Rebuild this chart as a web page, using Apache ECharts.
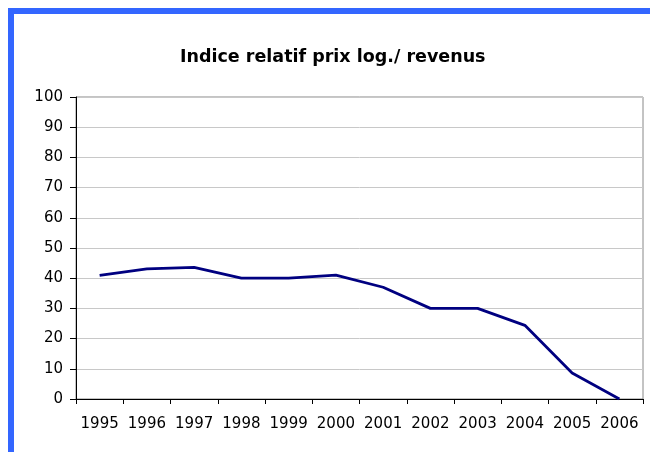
<!DOCTYPE html>
<html>
<head>
<meta charset="utf-8">
<script src="https://cdn.jsdelivr.net/npm/echarts@6/dist/echarts.min.js"></script>
<style>
  body { margin: 0; background: #fff; }
  #myChart { width: 650px; height: 452px; }
</style>
</head>
<body>
<div id="myChart"></div>
<script>
var years = ["1995", "1996", "1997", "1998", "1999", "2000", "2001", "2002", "2003", "2004", "2005", "2006"];
var indice = [40.9, 43.1, 43.6, 40, 40, 41, 37, 30, 30, 24.4, 8.6, 0];

var myChart = echarts.init(document.getElementById("myChart"));
var option = {
  backgroundColor: "#ffffff",
  animation: false,
  // cadre bleu en haut et à gauche
  graphic: [
    { type: "rect", shape: { x: 8, y: 8, width: 642, height: 6 }, style: { fill: "#3366ff" } },
    { type: "rect", shape: { x: 8, y: 8, width: 6, height: 444 }, style: { fill: "#3366ff" } }
  ],
  title: {
    text: "Indice relatif prix log./ revenus",
    left: 175,
    top: 43,
    textStyle: { fontFamily: "DejaVu Sans", fontSize: 17.5, fontWeight: "bold", color: "#000" }
  },
  grid: {
    left: 76,
    top: 97,
    right: 7,
    bottom: 53,
    show: true,
    borderColor: "#888888",
    borderWidth: 1
  },
  xAxis: {
    type: "category",
    data: years,
    boundaryGap: true,
    axisLine: { lineStyle: { color: "#000", width: 1 } },
    axisTick: { show: true, length: 5, lineStyle: { color: "#000" } },
    axisLabel: { color: "#000", fontFamily: "DejaVu Sans", fontSize: 15, margin: 18, interval: 0 }
  },
  yAxis: {
    type: "value",
    min: 0,
    max: 100,
    interval: 10,
    axisLine: { show: true, lineStyle: { color: "#000", width: 1 } },
    axisTick: { show: true, length: 6, lineStyle: { color: "#000" } },
    axisLabel: { color: "#000", fontFamily: "DejaVu Sans", fontSize: 15, margin: 13 },
    splitLine: { lineStyle: { color: "#c8c8c8", width: 1 } }
  },
  series: [
    {
      name: "Indice",
      type: "line",
      data: indice,
      symbol: "none",
      lineStyle: { color: "#000080", width: 2.8 },
      itemStyle: { color: "#000080" }
    }
  ]
};
option && myChart.setOption(option);
</script>
</body>
</html>
